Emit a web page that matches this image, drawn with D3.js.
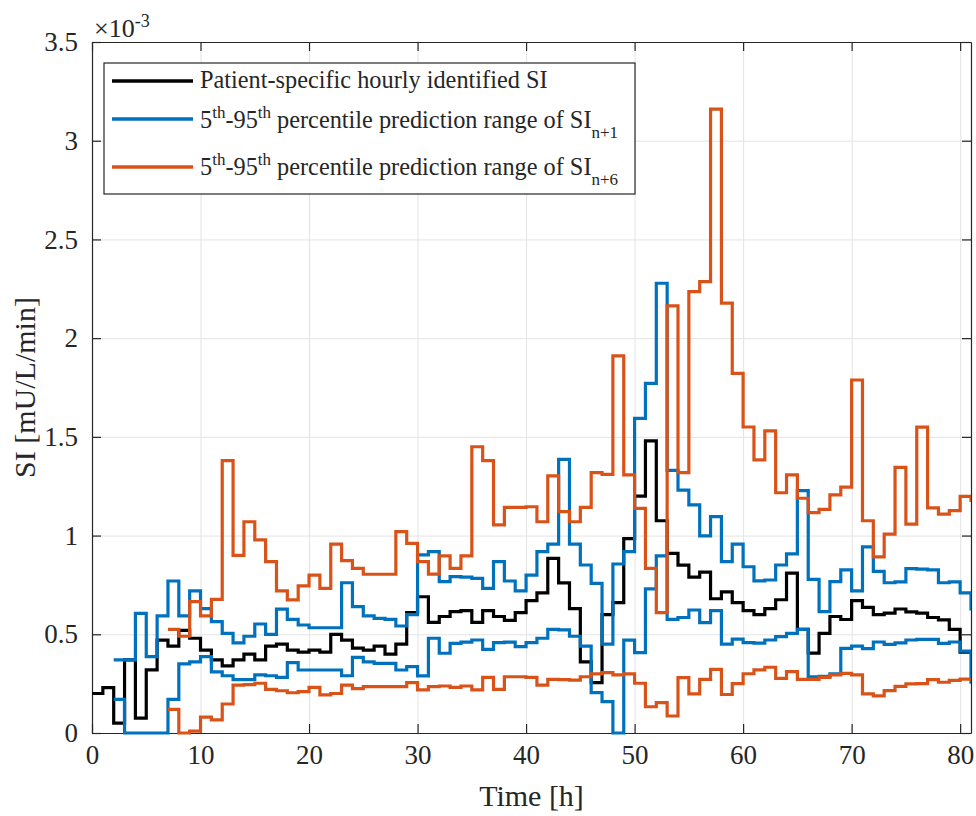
<!DOCTYPE html>
<html>
<head>
<meta charset="utf-8">
<script src="https://cdn.jsdelivr.net/npm/d3@7"></script>
<style>
  body { margin: 0; background: #fff; }
  svg, svg text { font-family: "Liberation Serif", "Times New Roman", Times, serif; }
  svg text { fill: #262626; }
</style>
</head>
<body>
<svg id="chart" width="976" height="816"></svg>
<script>
// SI values in units of 1e-3 mU/L/min, one value per hour
const siStart = 0;
const siHourly = [
  0.20,0.23,0.05,0.37,0.075,0.32,0.47,0.44,0.52,0.48,
  0.42,0.37,0.34,0.37,0.40,0.37,0.44,0.45,0.42,0.41,
  0.42,0.41,0.50,0.47,0.43,0.42,0.44,0.40,0.45,0.61,
  0.69,0.56,0.59,0.615,0.62,0.56,0.62,0.59,0.57,0.61,
  0.67,0.71,0.885,0.76,0.63,0.36,0.255,0.60,0.66,0.985,
  1.20,1.48,1.075,0.91,0.85,0.79,0.815,0.68,0.715,0.66,
  0.62,0.60,0.63,0.675,0.81,0.525,0.405,0.505,0.59,0.575,
  0.67,0.636,0.60,0.607,0.628,0.614,0.607,0.585,0.573,0.525,
  0.41,0.40
];

const n1Start = 2;
const n1Lower = [
  0.17,0,0,0,0,0.17,0.35,0.36,
  0.387,0.31,0.29,0.27,0.27,0.294,0.29,0.282,0.356,0.319,
  0.319,0.319,0.319,0.29,0.383,0.36,0.353,0.353,0.319,0.336,
  0.289,0.48,0.404,0.454,0.46,0.471,0.424,0.458,0.46,0.437,
  0.458,0.48,0.525,0.522,0.49,0.44,0.205,0.159,0,0.47,
  0.407,0.73,0.897,0.576,0.585,0.623,0.559,0.62,0.45,0.475,
  0.458,0.455,0.471,0.488,0.505,0.525,0.285,0.287,0.299,0.429,
  0.44,0.427,0.461,0.449,0.457,0.471,0.474,0.474,0.454,0.461,
  0.415,0.25
];
const n1Upper = [
  0.37,0.37,0.606,0.387,0.593,0.77,0.593,0.72,
  0.63,0.564,0.505,0.457,0.49,0.552,0.50,0.627,0.576,0.547,
  0.533,0.533,0.533,0.761,0.64,0.593,0.581,0.576,0.542,0.60,
  0.902,0.919,0.767,0.792,0.79,0.783,0.733,0.868,0.77,0.72,
  0.80,0.919,0.957,1.386,0.957,0.851,0.758,0.45,0.856,0.919,
  1.594,1.771,2.278,1.33,1.23,1.155,0.998,1.096,0.868,0.957,
  0.842,0.771,0.775,0.851,0.907,1.228,0.778,0.615,0.767,0.826,
  0.72,0.943,0.819,0.761,0.765,0.833,0.83,0.826,0.761,0.765,
  0.71,0.62
];

const n6Start = 7;
const n6Lower = [
  0.12,0,0.01,
  0.08,0.066,0.147,0.243,0.245,0.252,0.221,0.214,0.204,0.21,
  0.231,0.193,0.20,0.243,0.225,0.235,0.235,0.235,0.235,0.255,
  0.218,0.235,0.238,0.231,0.238,0.218,0.282,0.221,0.285,0.285,
  0.282,0.243,0.272,0.27,0.268,0.285,0.299,0.306,0.294,0.299,
  0.252,0.133,0.154,0.086,0.28,0.198,0.272,0.322,0.195,0.25,
  0.30,0.32,0.333,0.277,0.311,0.272,0.272,0.282,0.294,0.302,
  0.294,0.198,0.188,0.215,0.236,0.249,0.25,0.27,0.257,0.267,
  0.273,0.28
];
const n6Upper = [
  0.525,0.49,0.665,
  0.593,0.677,1.38,0.90,1.07,0.978,0.868,0.72,0.674,0.745,
  0.80,0.733,0.957,0.873,0.834,0.804,0.804,0.804,1.02,0.96,
  0.868,0.805,0.897,0.834,0.897,1.45,1.38,1.054,1.143,1.143,
  1.146,1.07,1.302,1.121,1.07,1.143,1.319,1.31,1.91,1.307,
  1.138,0.834,0.61,2.163,1.319,2.236,2.286,3.16,2.177,1.822,
  1.55,1.383,1.53,1.217,1.307,1.189,1.116,1.133,1.206,1.245,
  1.788,1.075,0.892,1.007,1.345,1.058,1.549,1.14,1.109,1.126,
  1.199,1.17
];

const xTicks = [0,10,20,30,40,50,60,70,80];
const yTicks = [0,0.5,1,1.5,2,2.5,3,3.5];
const yTickLabels = ['0','0.5','1','1.5','2','2.5','3','3.5'];

const colors = { si: '#000000', n1: '#0072BD', n6: '#D95319' };

const legendItems = [
  { color: colors.si, parts: [{ t: 'Patient-specific hourly identified SI' }] },
  { color: colors.n1, parts: [{ t: '5' }, { t: 'th', s: -1 }, { t: '-95' }, { t: 'th', s: -1 },
      { t: ' percentile prediction range of SI' }, { t: 'n+1', s: 1 }] },
  { color: colors.n6, parts: [{ t: '5' }, { t: 'th', s: -1 }, { t: '-95' }, { t: 'th', s: -1 },
      { t: ' percentile prediction range of SI' }, { t: 'n+6', s: 1 }] },
];

const serif = 'Liberation Serif, Times New Roman, Times, serif';

//─── layout ───
const plotLeft = 92, plotRight = 971, plotTop = 42, plotBottom = 733;
const svg = d3.select('#chart');

const xScale = d3.scaleLinear().domain([0, 81]).range([plotLeft, plotRight]);
const yScale = d3.scaleLinear().domain([0, 3.5]).range([plotBottom, plotTop]);

//─── grid ───
const grid = svg.append('g').attr('class', 'grid');
grid.append('g')
  .attr('transform', `translate(0,${plotBottom})`)
  .call(d3.axisBottom(xScale).tickValues(xTicks).tickSize(-(plotBottom - plotTop)).tickFormat(''));
grid.append('g')
  .attr('transform', `translate(${plotLeft},0)`)
  .call(d3.axisLeft(yScale).tickValues(yTicks).tickSize(-(plotRight - plotLeft)).tickFormat(''));
grid.selectAll('.domain').remove();
grid.selectAll('line').attr('stroke', '#e3e3e3').attr('stroke-width', 1);

//─── axes (ticks point inward, box on) ───
const axisColor = '#262626';
const xAxis = svg.append('g')
  .attr('transform', `translate(0,${plotBottom})`)
  .call(d3.axisBottom(xScale).tickValues(xTicks).tickSize(-9).tickSizeOuter(0).tickPadding(12));
const yAxis = svg.append('g')
  .attr('transform', `translate(${plotLeft},0)`)
  .call(d3.axisLeft(yScale).tickValues(yTicks).tickSize(-9).tickSizeOuter(0).tickPadding(14)
    .tickFormat((d, i) => yTickLabels[i]));
const xTop = svg.append('g')
  .attr('transform', `translate(0,${plotTop})`)
  .call(d3.axisTop(xScale).tickValues(xTicks).tickSize(-9).tickSizeOuter(0).tickFormat(''));
const yRight = svg.append('g')
  .attr('transform', `translate(${plotRight},0)`)
  .call(d3.axisRight(yScale).tickValues(yTicks).tickSize(-9).tickSizeOuter(0).tickFormat(''));

[xAxis, yAxis, xTop, yRight].forEach(g => {
  g.attr('font-family', serif).attr('font-size', 27);
  g.selectAll('.domain').attr('stroke', axisColor).attr('stroke-width', 1.2);
  g.selectAll('line').attr('stroke', axisColor).attr('stroke-width', 1.2);
  g.selectAll('text').attr('fill', axisColor).attr('font-family', serif).attr('font-size', 27);
});

// exponent label
const mult = svg.append('text').attr('x', 94).attr('y', 37)
  .attr('font-family', serif).attr('font-size', 26);
mult.append('tspan').text('\u00d710');
mult.append('tspan').attr('dy', -10).attr('font-size', 18).text('-3');

// axis labels
svg.append('text')
  .attr('x', (plotLeft + plotRight) / 2).attr('y', 806)
  .attr('text-anchor', 'middle').attr('font-family', serif).attr('font-size', 30)
  .text('Time [h]');
svg.append('text')
  .attr('transform', `translate(35,${(plotTop + plotBottom) / 2}) rotate(-90)`)
  .attr('text-anchor', 'middle').attr('font-family', serif).attr('font-size', 30)
  .text('SI [mU/L/min]');

//─── stair lines ───
svg.append('clipPath').attr('id', 'plot-clip')
  .append('rect').attr('x', plotLeft).attr('y', plotTop - 6)
  .attr('width', plotRight - plotLeft).attr('height', plotBottom - plotTop + 12);

const stairs = d3.line()
  .x(d => xScale(d.h))
  .y(d => yScale(d.v))
  .curve(d3.curveStepAfter);

const toPoints = (values, start) => values.map((v, i) => ({ h: start + i, v }));

const series = [
  { pts: toPoints(siHourly, siStart), color: colors.si },
  { pts: toPoints(n1Lower, n1Start), color: colors.n1 },
  { pts: toPoints(n1Upper, n1Start), color: colors.n1 },
  { pts: toPoints(n6Lower, n6Start), color: colors.n6 },
  { pts: toPoints(n6Upper, n6Start), color: colors.n6 },
];

svg.append('g').attr('clip-path', 'url(#plot-clip)')
  .selectAll('path')
  .data(series)
  .join('path')
    .attr('d', d => stairs(d.pts))
    .attr('fill', 'none')
    .attr('stroke', d => d.color)
    .attr('stroke-width', 3.2)
    .attr('stroke-linejoin', 'miter');

//─── legend ───
const legend = svg.append('g');
legend.append('rect')
  .attr('x', 104).attr('y', 63).attr('width', 531).attr('height', 131)
  .attr('fill', '#fff').attr('stroke', axisColor).attr('stroke-width', 1.2);

const entryLineY = [81, 119, 167];
const entryBaseY = [88, 127.5, 174.5];

legendItems.forEach((item, i) => {
  legend.append('line')
    .attr('x1', 112).attr('x2', 193)
    .attr('y1', entryLineY[i]).attr('y2', entryLineY[i])
    .attr('stroke', item.color).attr('stroke-width', 3.5);
  const txt = legend.append('text')
    .attr('x', 200).attr('y', entryBaseY[i])
    .attr('font-family', serif).attr('font-size', 24.3).attr('fill', '#000');
  let prev = 0;
  item.parts.forEach(p => {
    const off = (p.s || 0) * 10;
    txt.append('tspan')
      .attr('dy', off - prev)
      .attr('font-size', p.s ? 17 : 24.3)
      .text(p.t);
    prev = off;
  });
});
</script>
</body>
</html>
